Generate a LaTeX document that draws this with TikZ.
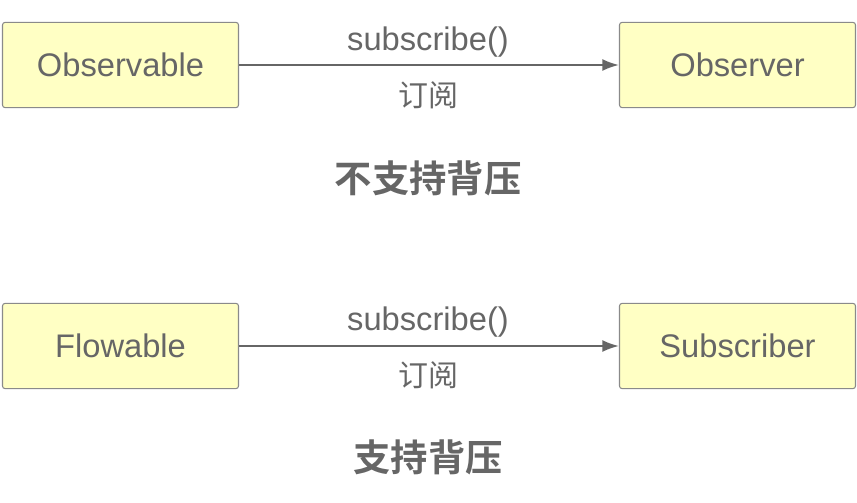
\documentclass[tikz,border=0pt]{standalone}
\usepackage{fontspec}
\setmainfont{Liberation Sans}
\newfontfamily\cjk{Noto Sans CJK SC}
\newfontfamily\cjkbold{Noto Sans CJK SC Bold}
\usepackage{xcolor}
\usetikzlibrary{arrows.meta}
\definecolor{boxfill}{HTML}{FFFFC4}
\definecolor{boxline}{HTML}{8A8A8A}
\definecolor{txtgray}{HTML}{666666}
\tikzset{ stream_box/.style = {rectangle, rounded corners=2pt, draw=boxline, line width=0.8pt, fill=boxfill, minimum width=177pt, minimum height=64pt, text=txtgray, font=\fontsize{24.5}{28}\selectfont} }
\tikzset{ call_lbl/.style = {text=txtgray, font=\fontsize{24.5}{28}\selectfont, inner sep=0pt} }
\tikzset{ title_lbl/.style = {text=txtgray, font=\cjkbold\fontsize{28}{32}\selectfont, inner sep=0pt} }

\begin{document}
\begin{tikzpicture}[x=0.75pt,y=-0.75pt]
        \useasboundingbox (0,0) rectangle (857,503);
        % top: no backpressure
        \node[stream_box] (1) at (120.5,65) {Observable};
        \node[stream_box] (2) at (737.5,65) {Observer};
        \draw[-{Latex[length=12.5pt,width=9pt]}, draw=txtgray, fill=txtgray, line width=1.5pt] (1) to (2);
        \node[call_lbl] (3) at (428,42) {subscribe()};
        \node[call_lbl, font=\cjk\fontsize{22.5}{26}\selectfont] (4) at (428,95) {订阅};
        \node[title_lbl] (5) at (428,178) {不支持背压};
        % bottom: backpressure
        \node[stream_box] (6) at (120.5,346) {Flowable};
        \node[stream_box] (7) at (737.5,346) {Subscriber};
        \draw[-{Latex[length=12.5pt,width=9pt]}, draw=txtgray, fill=txtgray, line width=1.5pt] (6) to (7);
        \node[call_lbl] (8) at (428,322) {subscribe()};
        \node[call_lbl, font=\cjk\fontsize{22.5}{26}\selectfont] (9) at (428,375) {订阅};
        \node[title_lbl] (10) at (428,457) {支持背压};
\end{tikzpicture}
\end{document}
